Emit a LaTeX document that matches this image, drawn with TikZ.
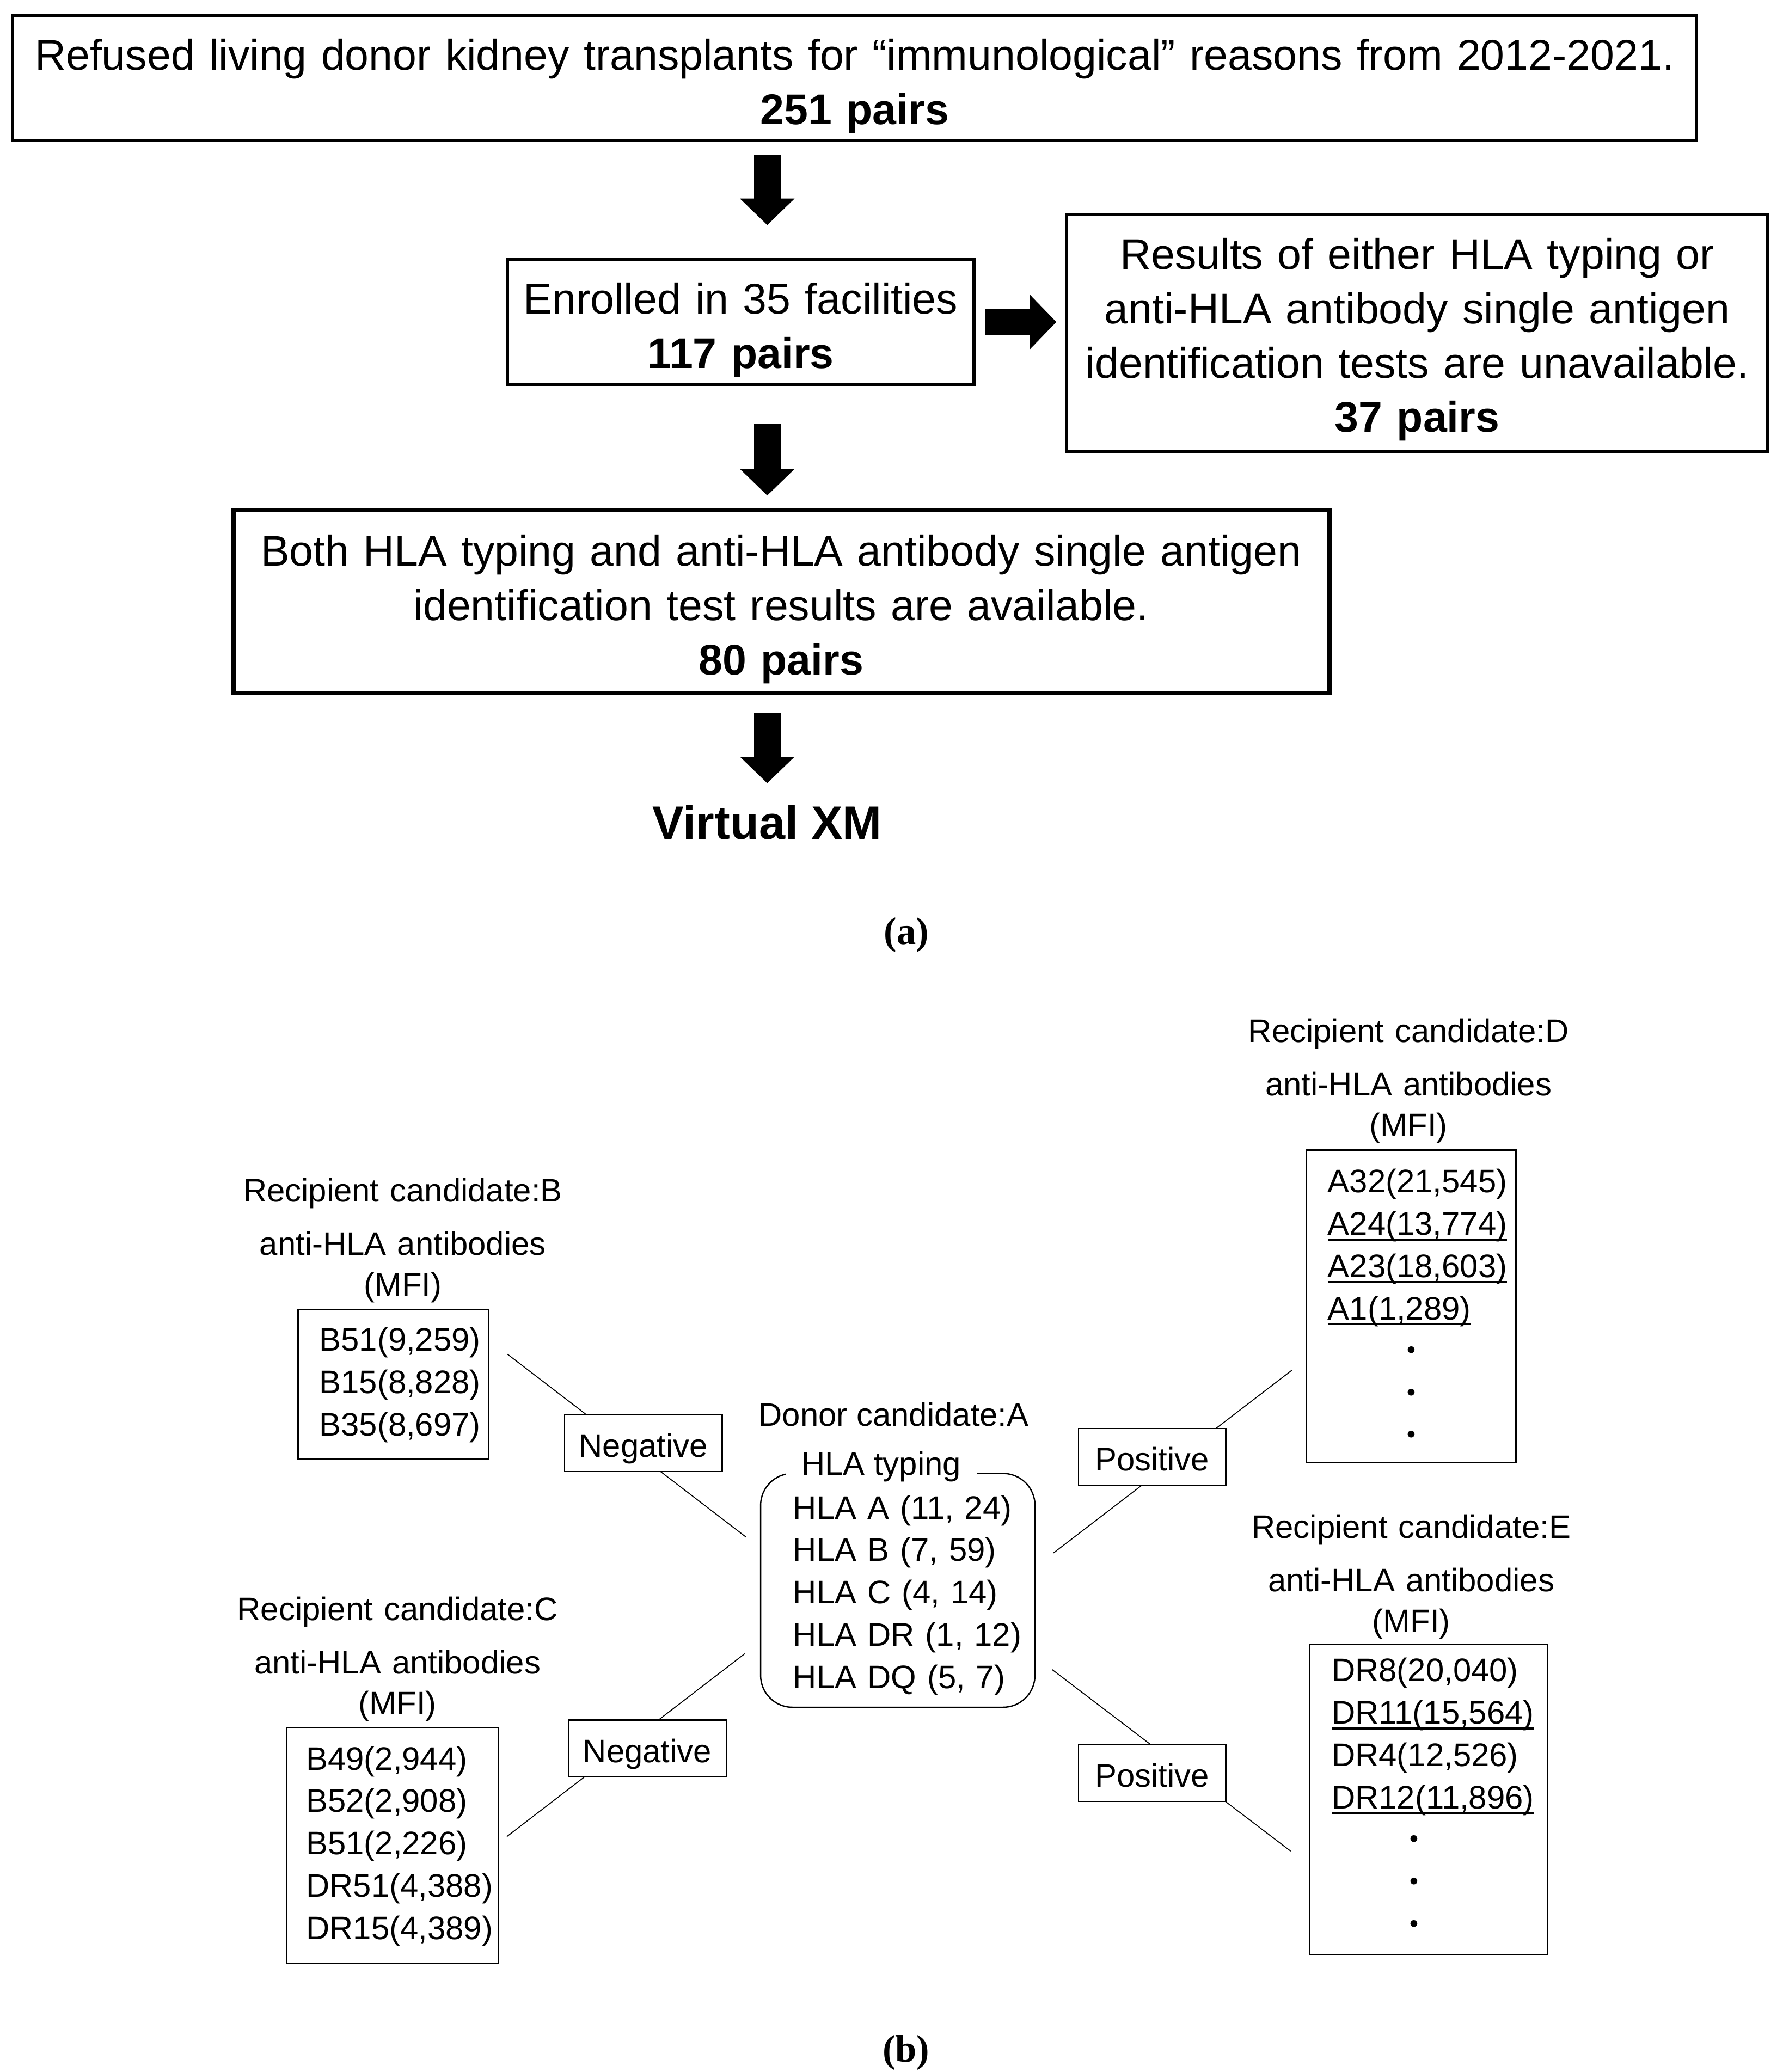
\documentclass[tikz,border=0pt]{standalone}
\usepackage{fontspec}
\setmainfont{Liberation Sans}
\newfontfamily\capfont{Liberation Serif}
\newfontfamily\jpfont{Noto Sans CJK JP}
\usetikzlibrary{arrows.meta}

% underlined antibody entry, and the dots that close a list
\newlength{\ulwidth}
\newcommand{\mfiline}[1]{\settowidth{\ulwidth}{#1}\makebox[0pt][l]{\rule[-4.2pt]{\ulwidth}{1.5pt}}#1}
\newcommand{\moredots}[1]{\makebox[#1]{\jpfont ・}}

\begin{document}
\begin{tikzpicture}[x=1pt, y=-1pt,
  flowbox/.style={draw, line width=2.2pt, inner sep=0pt, align=center, text height=41pt,
    font=\fontsize{32.4}{41}\selectfont},
  listbox/.style={draw, line width=1pt, inner ysep=0pt, align=left,
    font=\fontsize{24.6}{32}\selectfont},
  heading/.style={anchor=base, inner sep=0pt, align=center, text width=260pt,
    font=\fontsize{24.6}{31}\selectfont},
  result/.style={draw, fill=white, line width=1pt, inner sep=0pt, align=center,
    text height=32pt, text depth=11pt, font=\fontsize{24.6}{30}\selectfont},
  bigarrow/.style={line width=20pt, -{Triangle[length=20pt, width=40pt]}},
  link/.style={line width=0.7pt}]

  \useasboundingbox (0,0) rectangle (1350,1563.7);

  % (a) pairs
  \node[flowbox, text width=1271pt, text depth=53.3pt] (refused) at (645,58.9)
    {Refused living donor kidney transplants for “immunological” reasons from 2012-2021.\\\textbf{251 pairs}};
  \node[flowbox, text width=352pt, text depth=53.5pt] (enrolled) at (559,243)
    {Enrolled in 35 facilities\\\textbf{117 pairs}};
  \node[flowbox, text width=529pt, text depth=137.6pt] (unavail) at (1069.5,251.5)
    {Results of either HLA typing or\\anti-HLA antibody single antigen\\identification tests are unavailable.\\\textbf{37 pairs}};
  \node[flowbox, line width=3.5pt, text width=827pt, text height=42.2pt, text depth=95.8pt] (both) at (589.5,454)
    {Both HLA typing and anti-HLA antibody single antigen\\identification test results are available.\\\textbf{80 pairs}};
  \node[anchor=base, inner sep=0pt, font=\bfseries\fontsize{35.5}{40}\selectfont] (vxm) at (579,633.4) {Virtual XM};

  \draw[bigarrow, shorten <=9.6pt, shorten >=24.8pt] (refused.south -| vxm) -- (enrolled.north -| vxm);
  \draw[bigarrow, shorten <=7.4pt, shorten >=6.7pt] (enrolled.east) -- (enrolled.east -| unavail.west);
  \draw[bigarrow, shorten <=28.4pt, shorten >=9.3pt] (enrolled.south -| vxm) -- (both.north -| vxm);
  \draw[bigarrow, shorten <=13.3pt, shorten >=16.4pt] (both.south -| vxm) -- (vxm.north);

  \node[anchor=base, inner sep=0pt, font=\capfont\bfseries\fontsize{29}{32}\selectfont] (capA) at (684,712.6) {(a)};

  % (b) virtual XM of donor A
  \node[heading] (headB) at (304,907) {Recipient candidate:B\\[9pt]anti-HLA antibodies\\(MFI)};
  \node[listbox, inner xsep=16pt, text width=112pt, text height=31.5pt, text depth=81.5pt] (recB) at (297,1044.5)
    {B51(9,259)\\B15(8,828)\\B35(8,697)};

  \node[heading] (headC) at (300,1223) {Recipient candidate:C\\[9pt]anti-HLA antibodies\\(MFI)};
  \node[listbox, inner xsep=15pt, text width=130pt, text height=31.7pt, text depth=146.3pt] (recC) at (296,1393)
    {B49(2,944)\\B52(2,908)\\B51(2,226)\\DR51(4,388)\\DR15(4,389)};

  \node[heading] (headD) at (1063,786.7) {Recipient candidate:D\\[9pt]anti-HLA antibodies\\(MFI)};
  \node[listbox, inner xsep=16pt, text width=126pt, text height=32pt, text depth=204pt] (recD) at (1065,986)
    {A32(21,545)\\\mfiline{A24(13,774)}\\\mfiline{A23(18,603)}\\\mfiline{A1(1,289)}\\
     \moredots{126pt}\\\moredots{126pt}\\\moredots{126pt}};

  \node[heading] (headE) at (1065,1161) {Recipient candidate:E\\[9pt]anti-HLA antibodies\\(MFI)};
  \node[listbox, inner xsep=17pt, text width=146pt, text height=28pt, text depth=206pt] (recE) at (1078,1358)
    {DR8(20,040)\\\mfiline{DR11(15,564)}\\DR4(12,526)\\\mfiline{DR12(11,896)}\\
     \moredots{124pt}\\\moredots{124pt}\\\moredots{124pt}};

  \node[anchor=base, inner sep=0pt, font=\fontsize{24.6}{31}\selectfont] (donorhead) at (674.5,1076.3) {Donor candidate:A};
  \node[listbox, rounded corners=24pt, inner xsep=24.6pt, text width=157.8pt, text height=34.3pt, text depth=142.1pt] (donor) at (677.5,1200.2)
    {HLA~A~(11,~24)\\HLA~B~(7,~59)\\HLA~C~(4,~14)\\HLA~DR~(1,~12)\\HLA~DQ~(5,~7)};
  \node[anchor=base, fill=white, inner xsep=12pt, inner ysep=0pt, font=\fontsize{24.6}{31}\selectfont] (typing) at (665,1113.3) {HLA typing};

  \draw[link] ([shift={(13.5,-22.5)}]recB.east) -- ([shift={(-10.5,-40.2)}]donor.west);
  \draw[link] ([shift={(6,-7)}]recC.east) -- ([shift={(-11.5,47.8)}]donor.west);
  \draw[link] ([shift={(13.5,-28.2)}]donor.east) -- ([shift={(-10.5,48)}]recD.west);
  \draw[link] ([shift={(12.5,59.8)}]donor.east) -- ([shift={(-13.5,39)}]recE.west);

  \node[result, text width=119pt] (negB) at (485.5,1089) {Negative};
  \node[result, text width=119pt] (negC) at (488.5,1319.5) {Negative};
  \node[result, text width=111pt] (posD) at (869.5,1099.5) {Positive};
  \node[result, text width=111pt] (posE) at (869.5,1338) {Positive};

  \node[anchor=base, inner sep=0pt, font=\capfont\bfseries\fontsize{29}{32}\selectfont] (capB) at (683.8,1555.9) {(b)};

\end{tikzpicture}
\end{document}
